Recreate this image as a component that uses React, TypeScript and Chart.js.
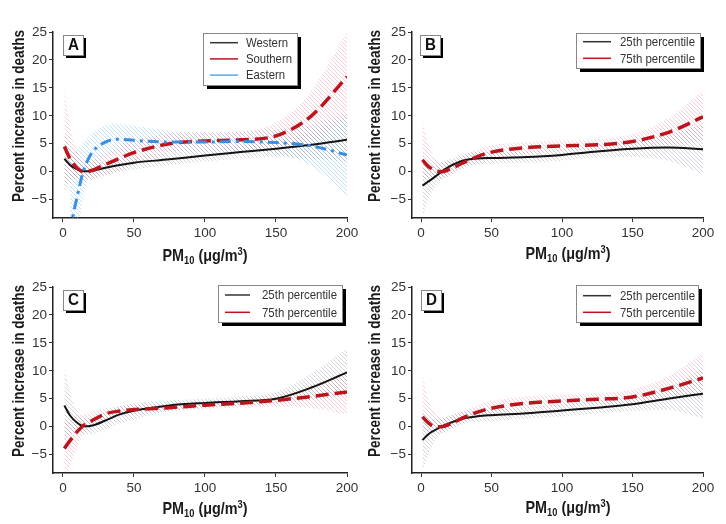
import React, { useEffect, useRef } from 'react';
import { Chart, registerables } from 'chart.js';
Chart.register(...registerables);

const FONT = "'Liberation Sans Narrow', 'Liberation Sans', Arial, sans-serif";

// ---------- data ----------
const PM10 = [1, 5, 10, 15, 20, 30, 40, 50, 75, 100, 125, 150, 175, 200];
const PM10_EAST = [5, 7, 10, 14, 17, 21, 30, 38, 50, 75, 100, 125, 150, 175, 200];
const X_TICKS = [0, 50, 100, 150, 200];
const Y_TICKS = [-5, 0, 5, 10, 15, 20, 25];

// Panel A
const A_WEST = [2.3, 1.2, 0.4, 0.05, 0.1, 0.7, 1.2, 1.6, 2.2, 2.9, 3.5, 4.1, 4.8, 5.7];
const A_WEST_LO = [-2.5, -1.5, -1.2, -1.3, -1.2, -0.5, 0.0, 0.4, 1.2, 1.8, 2.4, 2.6, 2.4, 1.8];
const A_WEST_HI = [7.0, 4.0, 2.0, 1.3, 1.4, 1.9, 2.4, 2.8, 3.3, 4.0, 4.6, 5.6, 7.2, 9.7];
const A_SOUTH = [4.5, 2.3, 0.6, 0.0, 0.2, 1.3, 2.4, 3.4, 5.0, 5.5, 5.7, 6.4, 10.0, 17.0];
const A_SOUTH_LO = [-4.0, -2.0, -1.2, -1.5, -1.5, -0.8, 0.2, 1.2, 3.2, 4.0, 4.1, 4.3, 5.5, 9.5];
const A_SOUTH_HI = [15.0, 8.0, 3.5, 1.8, 2.0, 3.3, 4.6, 5.6, 6.8, 7.0, 7.2, 8.8, 14.5, 25.0];
const A_EAST = [-11.0, -8.0, -4.5, -0.2, 1.8, 3.6, 5.3, 5.8, 5.6, 5.3, 5.3, 5.4, 5.2, 4.6, 3.0];
const A_EAST_LO = [-25.0, -20.0, -12.0, -5.0, -2.0, 0.5, 2.5, 3.3, 3.5, 3.6, 3.6, 3.6, 3.2, 1.0, -4.5];
const A_EAST_HI = [2.0, 3.0, 4.0, 5.0, 6.0, 7.0, 8.3, 8.5, 8.2, 7.3, 7.0, 7.2, 7.5, 8.5, 10.5];

// Panel B
const B_P25 = [-2.5, -1.8, -0.9, 0.1, 0.9, 2.0, 2.35, 2.45, 2.6, 3.0, 3.6, 4.1, 4.3, 4.0];
const B_P25_LO = [-8.3, -5.0, -2.7, -1.3, -0.5, 0.8, 1.2, 1.4, 1.6, 2.0, 2.5, 2.6, 2.0, -0.5];
const B_P25_HI = [3.0, 1.5, 1.2, 1.7, 2.2, 3.2, 3.5, 3.5, 3.6, 4.0, 4.8, 5.6, 6.6, 8.5];
const B_P75 = [2.1, 1.0, 0.2, 0.0, 0.4, 1.6, 2.7, 3.5, 4.3, 4.6, 4.8, 5.4, 7.0, 9.8];
const B_P75_LO = [-1.0, -1.0, -1.2, -1.3, -0.8, 0.5, 1.5, 2.2, 3.3, 3.7, 3.9, 4.2, 4.8, 5.5];
const B_P75_HI = [9.0, 5.0, 2.5, 1.6, 1.8, 2.8, 4.0, 4.7, 5.3, 5.6, 5.8, 6.7, 9.5, 14.5];

// Panel C
const C_P25 = [3.8, 2.0, 0.7, 0.05, 0.15, 1.1, 2.2, 2.85, 3.8, 4.25, 4.55, 5.0, 7.0, 9.7];
const C_P25_LO = [-2.5, -1.5, -1.0, -1.3, -1.3, -0.5, 0.6, 1.3, 2.8, 3.4, 3.8, 4.0, 4.8, 5.5];
const C_P25_HI = [10.5, 6.0, 2.8, 1.5, 1.6, 2.6, 3.6, 4.2, 4.7, 5.0, 5.4, 6.2, 9.5, 14.0];
const C_P75 = [-3.9, -2.5, -0.9, 0.3, 1.0, 2.3, 2.8, 3.05, 3.4, 3.85, 4.2, 4.7, 5.4, 6.2];
const C_P75_LO = [-8.3, -7.0, -3.5, -1.2, -0.3, 1.2, 2.0, 2.3, 2.8, 3.1, 3.4, 3.6, 3.3, 2.2];
const C_P75_HI = [1.0, 1.5, 2.0, 2.2, 2.6, 3.3, 3.7, 3.9, 4.1, 4.6, 5.0, 5.8, 7.5, 9.5];

// Panel D
const D_P25 = [-2.4, -1.4, -0.6, 0.1, 0.6, 1.45, 1.85, 2.05, 2.4, 2.9, 3.4, 4.0, 5.0, 5.9];
const D_P25_LO = [-8.3, -5.0, -2.5, -1.2, -0.5, 0.5, 0.9, 1.0, 1.4, 1.8, 2.4, 2.8, 3.0, 1.5];
const D_P25_HI = [2.5, 1.5, 1.3, 1.6, 2.0, 2.7, 2.9, 3.1, 3.4, 4.0, 4.6, 5.4, 7.0, 10.5];
const D_P75 = [1.75, 0.7, 0.0, 0.0, 0.4, 1.6, 2.6, 3.3, 4.2, 4.6, 4.9, 5.3, 6.8, 8.7];
const D_P75_LO = [-1.0, -1.0, -1.3, -1.2, -0.7, 0.5, 1.6, 2.2, 3.3, 3.6, 3.9, 4.1, 5.0, 5.0];
const D_P75_HI = [9.5, 5.0, 2.3, 1.5, 1.8, 2.8, 3.8, 4.6, 5.4, 5.7, 6.0, 6.7, 9.0, 13.2];

const Y_TITLE = 'Percent increase in deaths';

// ---------- styles ----------
type Kind = 'black' | 'red' | 'blue';
const STYLE: Record<Kind, { color: string; width: number; dash: number[]; hatch: string; legend: string }> = {
  black: { color: '#141414', width: 2, dash: [], hatch: 'rgba(125,135,145,0.4)', legend: '#333333' },
  red: { color: '#bc141c', width: 3.5, dash: [13, 6], hatch: 'rgba(232,125,155,0.42)', legend: '#c0141c' },
  blue: { color: '#3a8ee2', width: 3, dash: [11, 5, 3, 5], hatch: 'rgba(120,190,235,0.5)', legend: '#5aa6e6' },
};

type Series = { label: string; kind: Kind; x: number[]; y: number[]; lo: number[]; hi: number[]; order: number };
type Panel = {
  letter: string; series: Series[]; left: number; top: number; canvasH: number; xMin: number;
  padTop: number; padRight: number; yAxisW: number; xAxisH: number;
  labelBox: [number, number];
  legend: { x: number; y: number; w: number; h: number; row0: number; gap: number; l0: number; l1: number; tx: number; tw: number };
  yTitle: [number, number]; xTitle: [number, number];
};

const PANELS: Panel[] = [
  {
    letter: 'A', left: 0, top: 0, canvasH: 272, xMin: -7, padTop: 32, padRight: 16, yAxisW: 53, xAxisH: 54,
    labelBox: [63, 35],
    legend: { x: 203, y: 33, w: 94, h: 52, row0: 42.7, gap: 16.2, l0: 210, l1: 238, tx: 246, tw: 42 },
    yTitle: [19, 116], xTitle: [205, 255],
    series: [
      { label: 'Western', kind: 'black', x: PM10, y: A_WEST, lo: A_WEST_LO, hi: A_WEST_HI, order: 3 },
      { label: 'Southern', kind: 'red', x: PM10, y: A_SOUTH, lo: A_SOUTH_LO, hi: A_SOUTH_HI, order: 2 },
      { label: 'Eastern', kind: 'blue', x: PM10_EAST, y: A_EAST, lo: A_EAST_LO, hi: A_EAST_HI, order: 1 },
    ],
  },
  {
    letter: 'B', left: 363, top: 0, canvasH: 272, xMin: -6.4, padTop: 32, padRight: 23, yAxisW: 49, xAxisH: 54,
    labelBox: [57, 35],
    legend: { x: 213, y: 33, w: 124, h: 35, row0: 41.7, gap: 16.6, l0: 220, l1: 248, tx: 257, tw: 75 },
    yTitle: [12, 116], xTitle: [205, 253],
    series: [
      { label: '25th percentile', kind: 'black', x: PM10, y: B_P25, lo: B_P25_LO, hi: B_P25_HI, order: 2 },
      { label: '75th percentile', kind: 'red', x: PM10, y: B_P75, lo: B_P75_LO, hi: B_P75_HI, order: 1 },
    ],
  },
  {
    letter: 'C', left: 0, top: 262, canvasH: 262, xMin: -7, padTop: 25, padRight: 16, yAxisW: 53, xAxisH: 51,
    labelBox: [63, 28],
    legend: { x: 218, y: 23, w: 124, h: 37, row0: 33, gap: 17.3, l0: 225, l1: 250, tx: 262, tw: 75 },
    yTitle: [19, 109], xTitle: [205, 246],
    series: [
      { label: '25th percentile', kind: 'black', x: PM10, y: C_P25, lo: C_P25_LO, hi: C_P25_HI, order: 2 },
      { label: '75th percentile', kind: 'red', x: PM10, y: C_P75, lo: C_P75_LO, hi: C_P75_HI, order: 1 },
    ],
  },
  {
    letter: 'D', left: 363, top: 262, canvasH: 262, xMin: -6.4, padTop: 25, padRight: 23, yAxisW: 49, xAxisH: 51,
    labelBox: [58, 28],
    legend: { x: 213, y: 23, w: 122, h: 37, row0: 33.7, gap: 16.6, l0: 220, l1: 248, tx: 257, tw: 75 },
    yTitle: [12, 109], xTitle: [205, 245],
    series: [
      { label: '25th percentile', kind: 'black', x: PM10, y: D_P25, lo: D_P25_LO, hi: D_P25_HI, order: 2 },
      { label: '75th percentile', kind: 'red', x: PM10, y: D_P75, lo: D_P75_LO, hi: D_P75_HI, order: 1 },
    ],
  },
];

function hatch(color: string): CanvasPattern | string {
  const s = 4;
  const c = document.createElement('canvas');
  c.width = s; c.height = s;
  const g = c.getContext('2d');
  if (!g) return color;
  g.strokeStyle = color;
  g.lineWidth = 0.9;
  g.beginPath();
  g.moveTo(-1, -1); g.lineTo(s + 1, s + 1);
  g.moveTo(-1, s - 1); g.lineTo(1, s + 1);
  g.moveTo(s - 1, -1); g.lineTo(s + 1, 1);
  g.stroke();
  return g.createPattern(c, 'repeat') || color;
}

const fmt = (v: number) => (v < 0 ? '\u2212' + Math.abs(v) : String(v));

function squeezed(ctx: CanvasRenderingContext2D, text: string, x: number, y: number, sx: number) {
  ctx.save();
  ctx.translate(x, y);
  ctx.scale(sx, 1);
  ctx.fillText(text, 0, 0);
  ctx.restore();
}

function decorPlugin(p: Panel) {
  return {
    id: 'decor',
    afterDraw(chart: any) {
      const ctx: CanvasRenderingContext2D = chart.ctx;
      ctx.save();
      // panel letter box
      const [bx, by] = p.labelBox;
      ctx.fillStyle = '#000';
      ctx.fillRect(bx + 3, by + 3, 20, 20);
      ctx.fillStyle = '#fff';
      ctx.fillRect(bx, by, 20, 20);
      ctx.strokeStyle = '#888';
      ctx.lineWidth = 1;
      ctx.strokeRect(bx + 0.5, by + 0.5, 20, 20);
      ctx.fillStyle = '#111';
      ctx.font = `bold 16px ${FONT}`;
      ctx.textAlign = 'center';
      ctx.textBaseline = 'middle';
      squeezed(ctx, p.letter, bx + 10.5, by + 11, 0.95);

      // legend
      const L = p.legend;
      ctx.fillStyle = '#000';
      ctx.fillRect(L.x + 4, L.y + 4, L.w, L.h);
      ctx.fillStyle = '#fff';
      ctx.fillRect(L.x, L.y, L.w, L.h);
      ctx.strokeStyle = '#888';
      ctx.strokeRect(L.x + 0.5, L.y + 0.5, L.w, L.h);
      ctx.font = `13.5px ${FONT}`;
      ctx.textAlign = 'left';
      ctx.textBaseline = 'middle';
      const sx = L.tw / ctx.measureText(p.series[0].label).width;
      p.series.forEach((s, i) => {
        const yy = L.row0 + i * L.gap;
        ctx.strokeStyle = STYLE[s.kind].legend;
        ctx.lineWidth = 1.5;
        ctx.setLineDash([]);
        ctx.beginPath();
        ctx.moveTo(L.l0, yy); ctx.lineTo(L.l1, yy);
        ctx.stroke();
        ctx.fillStyle = '#333';
        squeezed(ctx, s.label, L.tx, yy + 0.5, sx);
      });

      // y title
      ctx.save();
      ctx.translate(p.yTitle[0], p.yTitle[1]);
      ctx.rotate(-Math.PI / 2);
      ctx.font = `bold 16.5px ${FONT}`;
      const w = ctx.measureText(Y_TITLE).width;
      ctx.scale(172 / w, 1);
      ctx.fillStyle = '#1a1a1a';
      ctx.textAlign = 'center';
      ctx.textBaseline = 'middle';
      ctx.fillText(Y_TITLE, 0, 0);
      ctx.restore();

      // x title: PM10 (µg/m3)
      const big = `bold 17px ${FONT}`;
      const small = `bold 11px ${FONT}`;
      const parts: [string, string, number][] = [
        ['PM', big, 0], ['10', small, 3], [' (\u03bcg/m', big, 0], ['3', small, -6.5], [')', big, 0],
      ];
      let total = 0;
      parts.forEach(([t, f]) => { ctx.font = f; total += ctx.measureText(t).width; });
      const k = 85 / total;
      ctx.save();
      ctx.translate(p.xTitle[0] - 42.5, p.xTitle[1] + 6);
      ctx.scale(k, 1);
      ctx.fillStyle = '#1a1a1a';
      ctx.textAlign = 'left';
      ctx.textBaseline = 'alphabetic';
      let x = 0;
      parts.forEach(([t, f, dy]) => {
        ctx.font = f;
        ctx.fillText(t, x, dy);
        x += ctx.measureText(t).width;
      });
      ctx.restore();
      ctx.restore();
    },
  };
}

function PanelChart({ p }: { p: Panel }) {
  const ref = useRef<HTMLCanvasElement>(null);
  useEffect(() => {
    if (!ref.current) return;
    const datasets: any[] = [];
    p.series.forEach((s) => {
      const st = STYLE[s.kind];
      datasets.push({
        label: s.label + ' hi', data: s.x.map((v, i) => ({ x: v, y: s.hi[i] })),
        borderWidth: 0, pointRadius: 0, fill: '+1', backgroundColor: hatch(st.hatch),
        cubicInterpolationMode: 'monotone', order: 10,
      });
      datasets.push({
        label: s.label + ' lo', data: s.x.map((v, i) => ({ x: v, y: s.lo[i] })),
        borderWidth: 0, pointRadius: 0, fill: false,
        cubicInterpolationMode: 'monotone', order: 10,
      });
    });
    p.series.forEach((s) => {
      const st = STYLE[s.kind];
      datasets.push({
        label: s.label, data: s.x.map((v, i) => ({ x: v, y: s.y[i] })),
        borderColor: st.color, borderWidth: st.width, borderDash: st.dash,
        pointRadius: 0, fill: false, cubicInterpolationMode: 'monotone', order: s.order,
      });
    });
    const tickFont = { family: FONT, size: 13.5 };
    const chart = new Chart(ref.current, {
      type: 'line',
      data: { datasets },
      options: {
        animation: false,
        responsive: false,
        devicePixelRatio: 1,
        layout: { padding: { top: p.padTop, right: p.padRight, left: 0, bottom: 0 } },
        plugins: { legend: { display: false }, tooltip: { enabled: false } },
        scales: {
          x: {
            type: 'linear', min: p.xMin, max: 200,
            afterBuildTicks: (sc: any) => { sc.ticks = X_TICKS.map((v) => ({ value: v })); },
            afterFit: (sc: any) => { sc.height = p.xAxisH; },
            ticks: { font: tickFont, color: '#333', padding: 3, maxRotation: 0, callback: (v: any) => fmt(Number(v)) },
            grid: { drawOnChartArea: false, drawTicks: true, tickLength: 4, color: '#333', lineWidth: 1 },
            border: { display: true, color: '#222', width: 1.5 },
          },
          y: {
            type: 'linear', min: -8.3, max: 25,
            afterBuildTicks: (sc: any) => { sc.ticks = Y_TICKS.map((v) => ({ value: v })); },
            afterFit: (sc: any) => { sc.width = p.yAxisW; },
            ticks: { font: tickFont, color: '#333', padding: 2, callback: (v: any) => fmt(Number(v)) },
            grid: { drawOnChartArea: false, drawTicks: true, tickLength: 4, color: '#333', lineWidth: 1 },
            border: { display: true, color: '#222', width: 1.5 },
          },
        },
      } as any,
      plugins: [decorPlugin(p)],
    });
    return () => chart.destroy();
  }, [p]);
  return (
    <canvas
      ref={ref}
      width={363}
      height={p.canvasH}
      style={{ position: 'absolute', left: p.left, top: p.top, width: 363, height: p.canvasH, display: 'block' }}
    />
  );
}

export default function App() {
  return (
    <div style={{ position: 'absolute', left: 0, top: 0, width: 726, height: 524, background: '#fff', overflow: 'hidden' }}>
      {PANELS.map((p) => (
        <PanelChart key={p.letter} p={p} />
      ))}
    </div>
  );
}
